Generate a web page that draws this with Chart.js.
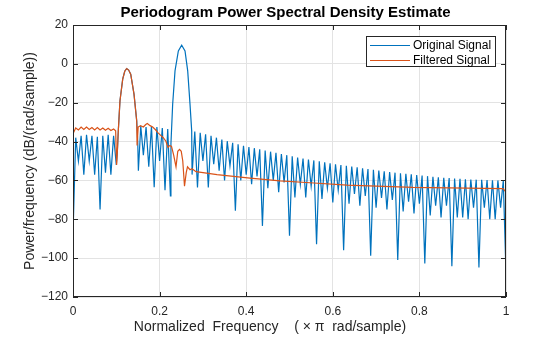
<!DOCTYPE html>
<html>
<head>
<meta charset="utf-8">
<script src="https://cdn.jsdelivr.net/npm/chart.js@4.4.1/dist/chart.umd.min.js"></script>
<style>
  html, body { margin: 0; padding: 0; background: #ffffff; }
</style>
</head>
<body>
<canvas id="psd" width="560" height="337"></canvas>
<script>
// axis ticks
const xTicks = [0, 0.2, 0.4, 0.6, 0.8, 1];
const yTicks = [-120, -100, -80, -60, -40, -20, 0, 20];

// Original Signal: frequency (x pi rad/sample) and PSD (dB/(rad/sample))
const origFreq = [
  0, 0.00625, 0.0125, 0.01875, 0.025, 0.03125, 0.0375, 0.04375, 0.05, 0.05625,
  0.0625, 0.06875, 0.075, 0.08125, 0.0875, 0.09375,
  0.1, 0.1025, 0.1046, 0.1085, 0.1148, 0.1195, 0.124, 0.1285, 0.1333, 0.1409, 0.1471, 0.1495, 0.151,
  0.1565, 0.1625, 0.16875, 0.175, 0.18125, 0.1875, 0.19375, 0.2, 0.20625, 0.2125, 0.21875, 0.225,
  0.2262, 0.2302, 0.2356, 0.2433, 0.251, 0.2587, 0.2649, 0.2702, 0.2741, 0.275,
  0.28125, 0.2875, 0.29375, 0.3, 0.30625, 0.3125, 0.31875, 0.325, 0.33125, 0.3375,
  0.34375, 0.35, 0.35625, 0.3625, 0.36875, 0.375, 0.38125, 0.3875, 0.39375, 0.4,
  0.40625, 0.4125, 0.41875, 0.425, 0.43125, 0.4375, 0.44375, 0.45, 0.45625, 0.4625,
  0.46875, 0.475, 0.48125, 0.4875, 0.49375, 0.5, 0.50625, 0.5125, 0.51875, 0.525,
  0.53125, 0.5375, 0.54375, 0.55, 0.55625, 0.5625, 0.56875, 0.575, 0.58125, 0.5875,
  0.59375, 0.6, 0.60625, 0.6125, 0.61875, 0.625, 0.63125, 0.6375, 0.64375, 0.65,
  0.65625, 0.6625, 0.66875, 0.675, 0.68125, 0.6875, 0.69375, 0.7, 0.70625, 0.7125,
  0.71875, 0.725, 0.73125, 0.7375, 0.74375, 0.75, 0.75625, 0.7625, 0.76875, 0.775,
  0.78125, 0.7875, 0.79375, 0.8, 0.80625, 0.8125, 0.81875, 0.825, 0.83125, 0.8375,
  0.84375, 0.85, 0.85625, 0.8625, 0.86875, 0.875, 0.88125, 0.8875, 0.89375, 0.9,
  0.90625, 0.9125, 0.91875, 0.925, 0.93125, 0.9375, 0.94375, 0.95, 0.95625, 0.9625,
  0.96875, 0.975, 0.98125, 0.9875, 0.99375, 1
];
const origPsd = [
  -88, -38, -50, -37, -57, -36.5, -50, -37, -57, -37.5,
  -75, -37, -56, -36.5, -57, -37,
  -52, -45, -34.5, -19, -7.9, -3.8, -2.4, -3.2, -5.3, -15.6, -29.3, -40, -55,
  -32, -47, -32.5, -53, -32, -63.5, -32.5, -50, -33, -65, -33.5, -68,
  -41, -20.7, -3.6, 6.7, 9.6, 6.7, -3.6, -20.7, -34.5, -57,
  -34.8, -63.6, -35.5, -50, -36.2, -63.6, -37, -51.6, -38, -55,
  -39, -60, -39.8, -52.5, -40.6, -75.6, -41.4, -60, -42.2, -57,
  -42.8, -62, -43.4, -58, -44, -83.4, -44.6, -64, -45.2, -60,
  -45.8, -66, -46.4, -61, -47, -88.5, -47.6, -68.8, -48.2, -62,
  -48.7, -68.8, -49.2, -63, -49.7, -92.8, -50.2, -69.5, -50.7, -64,
  -51.2, -71.4, -51.7, -65, -52.1, -95.9, -52.5, -72, -52.9, -67,
  -53.3, -73, -53.7, -68, -54.1, -98.8, -54.5, -74, -54.9, -69,
  -55.3, -75, -55.7, -70, -56, -101, -56.3, -76, -56.6, -71,
  -56.9, -77, -57.2, -72, -57.5, -102.8, -57.8, -78, -58.1, -73,
  -58.4, -79, -58.6, -73, -58.8, -104.1, -59, -79, -59.2, -79,
  -59.4, -80, -59.5, -74, -59.6, -104.8, -59.7, -74, -59.8, -80,
  -59.9, -80, -60, -74, -60.1, -108
];

// Filtered Signal
const filtFreq = [
  0, 0.00625, 0.0125, 0.01875, 0.025, 0.03125, 0.0375, 0.04375, 0.05, 0.05625,
  0.0625, 0.06875, 0.075, 0.08125, 0.0875, 0.09375, 0.0985, 0.1008,
  0.1025, 0.1046, 0.1085, 0.1148, 0.1195, 0.124, 0.1285, 0.1333, 0.1409, 0.1471, 0.148,
  0.1505, 0.156, 0.1625, 0.168, 0.1716, 0.178, 0.184, 0.19, 0.1965, 0.2025,
  0.2085, 0.2145, 0.2194, 0.2235, 0.2275, 0.2325, 0.2379, 0.242, 0.246, 0.25,
  0.2535, 0.2575, 0.2615, 0.2644, 0.2702, 0.2748, 0.2841, 0.3002, 0.3326, 0.4088,
  0.4781, 0.5473, 0.6328, 0.7852, 0.9931, 1
];
const filtPsd = [
  -36, -33, -34, -32.5, -33.8, -32.5, -33.8, -32.8, -34, -32.8,
  -34, -33, -34.2, -33.2, -34.3, -33.5, -34.5, -52,
  -45, -34.5, -19, -7.9, -3.8, -2.4, -3.2, -5.3, -15.6, -29.3, -42,
  -32.5, -31.8, -32.5, -31.2, -30.7, -31.8, -32.5, -33.8, -35.5, -36.8,
  -38, -39.8, -43, -42, -42.5, -47, -53, -45, -44, -45,
  -50, -63, -56, -53, -54.5, -54, -55.5, -56, -57, -58.8,
  -60.2, -61.2, -62.4, -63.6, -64.2, -66
];

const blue = '#0072BD';
const orange = '#D95319';
const axisColor = '#262626';
const gridColor = '#e3e3e3';
const fontFamily = "'Liberation Sans', Arial, Helvetica, sans-serif";

function toPoints(freq, psd) {
  return freq.map((f, i) => ({ x: f, y: psd[i] }));
}

// MATLAB-like minus sign on tick labels
function tickText(v) {
  return String(v).replace('-', '\u2212');
}

// frame, inward ticks, title, x label and legend
const matlabAxes = {
  id: 'matlabAxes',
  afterDatasetsDraw(chart) {
    const ctx = chart.ctx;
    const a = chart.chartArea;
    const xs = chart.scales.x;
    const ys = chart.scales.y;
    ctx.save();
    ctx.strokeStyle = axisColor;
    ctx.lineWidth = 1;
    ctx.strokeRect(Math.round(a.left) + 0.5, Math.round(a.top) + 0.5,
      Math.round(a.right - a.left) - 1, Math.round(a.bottom - a.top) - 1);

    ctx.beginPath();
    xTicks.forEach(v => {
      const px = Math.round(xs.getPixelForValue(v)) + 0.5;
      ctx.moveTo(px, a.bottom); ctx.lineTo(px, a.bottom - 5);
      ctx.moveTo(px, a.top); ctx.lineTo(px, a.top + 5);
    });
    yTicks.forEach(v => {
      const py = Math.round(ys.getPixelForValue(v)) + 0.5;
      ctx.moveTo(a.left, py); ctx.lineTo(a.left + 5, py);
      ctx.moveTo(a.right, py); ctx.lineTo(a.right - 5, py);
    });
    ctx.stroke();

    // title
    ctx.fillStyle = '#000';
    ctx.textAlign = 'center';
    ctx.textBaseline = 'middle';
    ctx.font = 'bold 15px ' + fontFamily;
    ctx.fillText('Periodogram Power Spectral Density Estimate', (a.left + a.right) / 2 - 4, 13);

    // x label
    ctx.fillStyle = axisColor;
    ctx.font = '14px ' + fontFamily;
    ctx.fillText('Normalized  Frequency    ( \u00D7 \u03C0  rad/sample)', 270, 327);

    // legend
    const lx = a.right - 140, ly = a.top + 11, lw = 130, lh = 31;
    ctx.fillStyle = '#fff';
    ctx.fillRect(lx, ly, lw, lh);
    ctx.strokeStyle = axisColor;
    ctx.strokeRect(lx + 0.5, ly + 0.5, lw - 1, lh - 1);
    const rows = [['Original Signal', blue], ['Filtered Signal', orange]];
    ctx.font = '12px ' + fontFamily;
    ctx.textAlign = 'left';
    rows.forEach((r, i) => {
      const yy = ly + 9.5 + i * 15;
      ctx.strokeStyle = r[1];
      ctx.beginPath();
      ctx.moveTo(lx + 4, yy); ctx.lineTo(lx + 44, yy);
      ctx.stroke();
      ctx.fillStyle = '#000';
      ctx.fillText(r[0], lx + 47, yy + 0.5);
    });
    ctx.restore();
  }
};

new Chart(document.getElementById('psd'), {
  type: 'scatter',
  data: {
    datasets: [{
      label: 'Original Signal',
      data: toPoints(origFreq, origPsd),
      showLine: true,
      borderColor: blue,
      backgroundColor: blue,
      borderWidth: 1.2,
      pointRadius: 0,
      tension: 0,
      order: 1
    }, {
      label: 'Filtered Signal',
      data: toPoints(filtFreq, filtPsd),
      showLine: true,
      borderColor: orange,
      backgroundColor: orange,
      borderWidth: 1.2,
      pointRadius: 0,
      tension: 0,
      order: 0
    }]
  },
  options: {
    responsive: false,
    animation: false,
    layout: { padding: { top: 25, right: 54, left: 0, bottom: 0 } },
    plugins: {
      legend: { display: false },
      tooltip: { enabled: false },
      title: { display: false }
    },
    scales: {
      x: {
        type: 'linear',
        min: 0,
        max: 1,
        afterBuildTicks: s => { s.ticks = xTicks.map(v => ({ value: v })); },
        afterFit: s => { s.height = 40; },
        grid: { color: gridColor, drawTicks: false },
        border: { display: false },
        ticks: {
          padding: 7,
          color: axisColor,
          font: { family: fontFamily, size: 12 },
          maxRotation: 0,
          callback: v => tickText(v)
        }
      },
      y: {
        type: 'linear',
        min: -120,
        max: 20,
        afterBuildTicks: s => { s.ticks = yTicks.map(v => ({ value: v })); },
        afterFit: s => { s.width = 73; },
        grid: { color: gridColor, drawTicks: false },
        border: { display: false },
        ticks: {
          padding: 5,
          color: axisColor,
          font: { family: fontFamily, size: 12 },
          callback: v => tickText(v)
        },
        title: {
          display: true,
          text: 'Power/frequency (dB/(rad/sample))',
          color: axisColor,
          font: { family: fontFamily, size: 14 },
          padding: { top: 22, bottom: 0 }
        }
      }
    }
  },
  plugins: [matlabAxes]
});
</script>
</body>
</html>
